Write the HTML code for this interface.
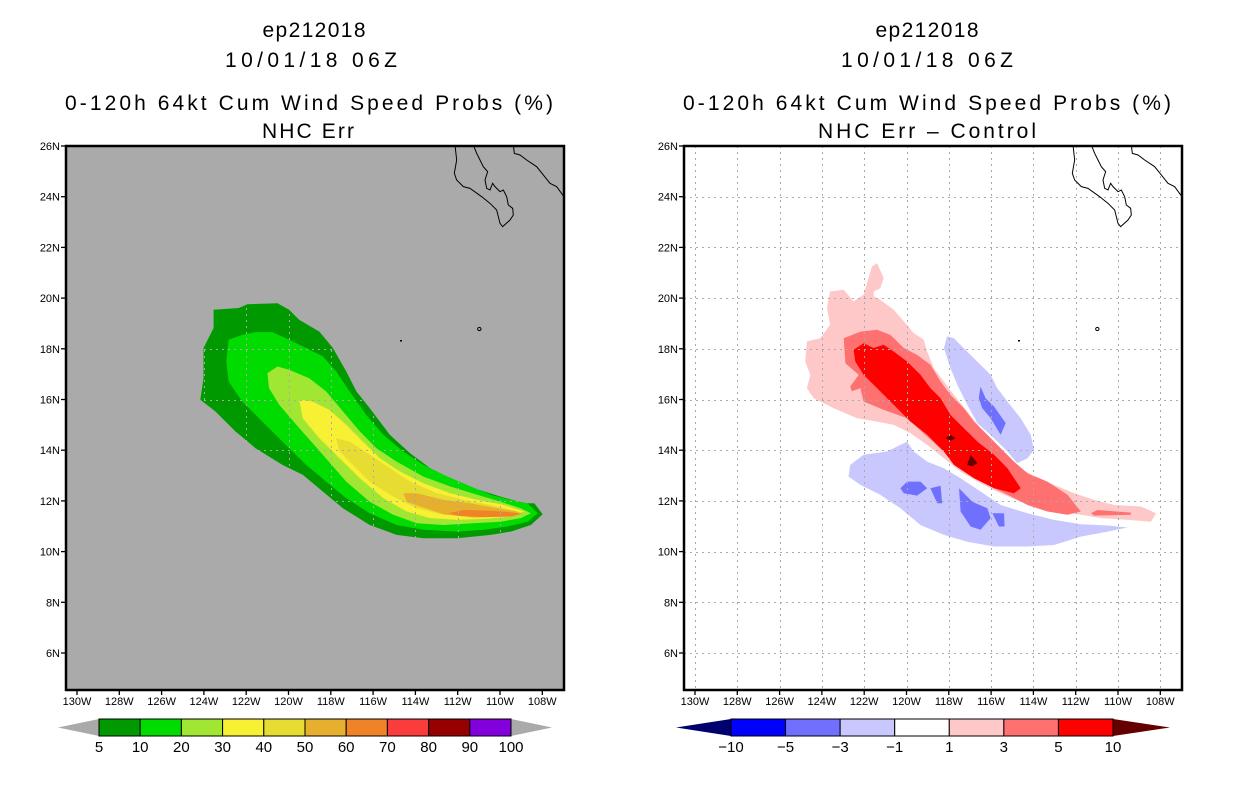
<!DOCTYPE html>
<html><head><meta charset="utf-8"><style>
html,body{margin:0;padding:0;background:#fff}
svg{display:block}
text{font-family:"Liberation Sans",sans-serif;fill:#000}
</style></head><body>
<svg id="fig" width="1236" height="800" viewBox="0 0 1236 800" xmlns="http://www.w3.org/2000/svg">
<defs>
<clipPath id="clipL"><rect x="66" y="146" width="498" height="544"/></clipPath>
<clipPath id="clipR"><rect x="684" y="146" width="498" height="544"/></clipPath>
</defs>
<g text-anchor="middle" font-size="21">
<text x="314" y="37" textLength="103">ep212018</text>
<text x="311" y="67" textLength="172">10/01/18 06Z</text>
<text x="309" y="110" textLength="488">0-120h 64kt Cum Wind Speed Probs (%)</text>
<text x="308" y="138" textLength="92">NHC Err</text>
</g>
<g text-anchor="middle" font-size="21">
<text x="927" y="37" textLength="103">ep212018</text>
<text x="927" y="67" textLength="172">10/01/18 06Z</text>
<text x="927" y="110" textLength="488">0-120h 64kt Cum Wind Speed Probs (%)</text>
<text x="927" y="138" textLength="218">NHC Err – Control</text>
</g>
<rect x="66" y="146" width="498" height="544" fill="#aaaaaa"/>
<rect x="684" y="146" width="498" height="544" fill="#ffffff"/>
<g id="contL" clip-path="url(#clipL)"></g>
<g id="contR" clip-path="url(#clipR)"></g>
<g id="gridL" clip-path="url(#clipL)"></g>
<g id="gridR" clip-path="url(#clipR)"></g>
<g clip-path="url(#clipL)">
<g transform="translate(420,130) scale(0.3333)" fill="none" stroke="#000" stroke-width="3">
<path d="M105,45 L110,90 L103,130 L110,150 L130,170 L150,175 L185,200 L210,220 L230,240 L240,280 L248,290 L270,270 L280,255 L278,235 L265,225 L260,200 L250,180 L240,185 L225,170 L218,160 L210,180 L200,175 L195,150 L203,125 L190,110 L180,90 L170,70 L160,45"/>
<path d="M280,45 L283,70 L300,75 L320,90 L350,110 L370,135 L390,160 L410,170 L432,200"/>
<circle cx="178" cy="597" r="5"/>
</g>
<rect x="400" y="340" width="2" height="1.5" fill="#000"/>
</g>
<g clip-path="url(#clipR)">
<g transform="translate(1038,130) scale(0.3333)" fill="none" stroke="#000" stroke-width="3">
<path d="M105,45 L110,90 L103,130 L110,150 L130,170 L150,175 L185,200 L210,220 L230,240 L240,280 L248,290 L270,270 L280,255 L278,235 L265,225 L260,200 L250,180 L240,185 L225,170 L218,160 L210,180 L200,175 L195,150 L203,125 L190,110 L180,90 L170,70 L160,45"/>
<path d="M280,45 L283,70 L300,75 L320,90 L350,110 L370,135 L390,160 L410,170 L432,200"/>
<circle cx="178" cy="597" r="5"/>
</g>
<rect x="1018" y="340" width="2" height="1.5" fill="#000"/>
</g>
<rect x="66" y="146" width="498" height="544" fill="none" stroke="#000" stroke-width="2.5"/>
<rect x="684" y="146" width="498" height="544" fill="none" stroke="#000" stroke-width="2.5"/>
<g id="axesL"></g>
<g id="axesR"></g>
<g id="cbL"></g>
<g id="cbR"></g>
</svg>
<script>
// axis tick values
const lonTicks = [130,128,126,124,122,120,118,116,114,112,110,108];
const latTicks = [26,24,22,20,18,16,14,12,10,8,6];
// left colorbar
const probLevels = [5,10,20,30,40,50,60,70,80,90,100];
const probColors = ['#009a00','#00dc00','#a0e632','#f8f032','#e6dc32','#e6af2d','#f08228','#fa3c3c','#960000','#8200dc'];
// right colorbar
const diffLevels = [-10,-5,-3,-1,1,3,5,10];
const diffColors = ['#00006e','#0000ff','#7070ff','#c8c8ff','#ffffff','#ffc8c8','#ff7070','#ff0000','#640000'];

// probability contours (lon W, lat N)
const prob5 = [[123.54,19.54],[122.35,19.61],[121.95,19.76],[120.52,19.80],[119.97,19.54],[119.49,19.14],[118.54,18.68],[117.90,18.03],[117.27,17.11],[116.79,16.32],[116.16,15.66],[115.21,14.61],[114.25,13.88],[113.30,13.29],[112.35,12.89],[111.24,12.50],[109.97,12.17],[108.86,11.91],[108.38,11.91],[107.98,11.47],[108.54,11.05],[109.49,10.79],[110.44,10.66],[112.03,10.53],[113.62,10.53],[114.89,10.66],[116.16,11.05],[117.43,11.71],[118.38,12.37],[119.33,13.03],[120.29,13.42],[121.56,14.08],[122.51,14.74],[123.46,15.53],[124.17,15.99],[124.02,16.84],[124.02,18.03],[123.54,18.82]];
const prob10 = [[122.83,18.36],[122.19,18.55],[121.56,18.66],[120.76,18.66],[119.97,18.36],[119.17,18.03],[118.38,17.70],[117.75,17.11],[117.11,16.32],[116.32,15.39],[115.52,14.61],[114.57,13.95],[113.62,13.42],[112.67,13.03],[111.56,12.63],[110.44,12.24],[109.49,12.04],[108.70,11.91],[108.22,11.51],[108.70,11.18],[109.65,10.99],[110.76,10.86],[112.03,10.79],[113.62,10.86],[114.89,11.05],[116.16,11.51],[117.27,12.11],[118.22,12.76],[119.17,13.42],[120.13,14.21],[121.24,15.13],[122.19,15.92],[122.83,16.71],[122.94,17.50]];
const prob20 = [[121.00,17.04],[120.52,17.30],[119.97,17.17],[119.02,16.84],[118.22,16.32],[117.43,15.53],[116.63,14.74],[115.84,14.08],[114.89,13.55],[113.62,12.96],[112.35,12.57],[111.08,12.24],[109.97,11.97],[109.02,11.71],[108.54,11.51],[109.02,11.32],[109.97,11.18],[111.24,11.12],[112.67,11.05],[113.94,11.12],[115.05,11.45],[116.16,11.97],[117.27,12.76],[118.38,13.82],[119.49,14.87],[120.44,15.79],[120.92,16.45]];
const prob30 = [[119.49,15.99],[118.86,15.92],[118.06,15.59],[117.27,15.00],[116.48,14.34],[115.68,13.68],[114.73,13.16],[113.62,12.70],[112.35,12.30],[111.08,12.04],[109.81,11.84],[108.86,11.58],[109.49,11.38],[110.76,11.29],[112.03,11.25],[113.30,11.32],[114.41,11.58],[115.52,12.11],[116.63,12.89],[117.59,13.68],[118.54,14.47],[119.33,15.26]];
const prob40 = [[117.75,14.47],[117.11,14.34],[116.16,13.82],[115.21,13.29],[114.25,12.76],[112.98,12.30],[111.71,12.04],[110.44,11.84],[109.17,11.58],[109.97,11.45],[111.24,11.38],[112.67,11.45],[113.94,11.71],[115.05,12.17],[116.16,12.76],[116.95,13.42],[117.59,13.95]];
const prob50 = [[114.57,12.30],[113.94,12.30],[112.67,12.04],[111.40,11.91],[110.13,11.71],[109.02,11.55],[109.97,11.38],[111.24,11.34],[112.67,11.47],[113.78,11.78],[114.41,11.97]];
const prob60 = [[112.43,11.51],[111.71,11.64],[110.44,11.61],[109.49,11.55],[108.94,11.49],[109.49,11.38],[110.76,11.36],[112.03,11.42]];

// difference contours
const diffPos1 = [[121.63,21.25],[121.39,21.38],[121.08,20.79],[121.24,20.39],[121.55,20.26],[121.55,20.07],[121.24,19.93],[120.60,19.54],[120.13,19.08],[119.66,18.62],[119.18,18.36],[119.02,17.89],[118.71,17.24],[118.23,16.71],[117.76,16.18],[117.13,15.53],[116.50,14.87],[115.86,14.34],[115.23,13.82],[114.60,13.29],[113.97,12.96],[113.02,12.63],[112.07,12.30],[111.12,12.04],[110.18,11.84],[108.91,11.78],[108.20,11.51],[108.44,11.18],[109.55,11.25],[110.81,11.32],[111.76,11.45],[112.70,11.58],[113.65,11.78],[114.60,11.97],[115.55,12.30],[116.50,12.70],[117.44,13.16],[118.23,13.68],[119.02,14.21],[119.81,14.67],[120.60,15.00],[121.39,15.13],[122.34,15.26],[123.45,15.66],[124.39,16.05],[124.71,16.45],[124.55,16.97],[124.79,17.50],[124.71,18.29],[124.08,18.42],[123.61,18.95],[123.76,19.61],[123.61,20.26],[122.97,20.33],[122.50,19.87],[122.03,20.13]];
const diffPos3 = [[122.97,18.42],[122.18,18.68],[121.39,18.75],[120.76,18.55],[120.13,18.03],[119.50,17.76],[118.87,17.37],[118.39,16.71],[117.92,16.18],[117.29,15.66],[116.81,15.13],[116.18,14.61],[115.55,14.08],[114.92,13.55],[114.28,13.09],[113.34,12.76],[112.39,12.24],[111.76,11.58],[112.39,11.45],[113.34,11.58],[114.28,11.84],[115.23,12.24],[116.18,12.63],[117.13,13.16],[118.08,13.82],[119.02,14.54],[119.97,15.26],[121.08,15.59],[122.03,15.92],[122.18,16.45],[122.58,16.32],[122.66,16.51],[122.26,16.97],[122.89,17.43]];
const diffPos3b = [[111.28,11.51],[110.97,11.64],[109.39,11.54],[109.39,11.45],[111.12,11.42]];
const diffPos5 = [[122.50,17.96],[122.03,18.22],[121.55,18.03],[121.08,18.16],[120.60,17.89],[119.97,17.50],[119.34,16.97],[118.87,16.45],[118.39,16.05],[117.92,15.39],[117.29,14.87],[116.65,14.34],[115.86,13.82],[115.23,13.29],[114.60,12.50],[114.92,12.30],[115.86,12.50],[116.81,12.89],[117.76,13.42],[118.23,13.95],[119.02,14.61],[119.81,15.13],[120.76,15.92],[121.39,16.45],[122.03,16.97],[122.42,17.50]];
const diffPos10a = [[118.15,14.47],[117.92,14.61],[117.68,14.47],[117.92,14.37]];
const diffPos10b = [[117.13,13.42],[116.97,13.82],[116.65,13.49],[116.89,13.36]];
const diffNeg1a = [[118.08,18.49],[117.76,18.42],[117.13,17.89],[116.50,17.37],[116.02,16.97],[115.71,16.45],[115.23,15.92],[114.60,15.26],[114.13,14.61],[113.97,14.01],[114.28,13.68],[114.76,13.49],[115.23,13.95],[115.86,14.47],[116.65,15.07],[117.13,15.79],[117.60,16.58],[117.92,17.24],[118.23,18.03]];
const diffNeg1b = [[122.66,13.42],[122.03,13.82],[120.92,13.95],[119.97,14.34],[119.66,13.95],[119.02,13.55],[118.23,13.29],[117.44,12.89],[116.50,12.37],[115.55,11.84],[114.28,11.51],[113.02,11.25],[111.76,11.08],[110.49,11.03],[109.55,10.95],[110.49,10.79],[111.76,10.59],[113.02,10.26],[114.28,10.20],[115.86,10.20],[117.13,10.39],[118.23,10.66],[119.34,11.05],[120.29,11.71],[121.24,12.24],[122.18,12.63],[122.74,12.96]];
const diffNeg3a = [[116.50,16.51],[116.26,16.05],[115.86,15.72],[115.31,15.07],[115.55,14.61],[116.02,15.26],[116.42,15.66],[116.58,16.05]];
const diffNeg3b = [[120.29,12.50],[119.97,12.76],[119.34,12.76],[119.02,12.50],[119.50,12.21],[120.13,12.30]];
const diffNeg3c = [[118.87,12.50],[118.39,12.60],[118.31,11.91],[118.55,11.91]];
const diffNeg3d = [[117.52,12.50],[116.89,11.97],[116.18,11.71],[116.02,11.32],[116.50,10.86],[116.97,10.99],[117.44,11.58]];
const diffNeg3e = [[115.94,11.51],[115.39,11.51],[115.36,10.99],[115.63,10.99]];

const NS='http://www.w3.org/2000/svg';
const PX_DEG_X=21.15, PX_DEG_Y=25.35;
function xScale(lon, off){ return 77 + off + (130 - lon) * PX_DEG_X; }
function yScale(lat){ return 146 + (26 - lat) * PX_DEG_Y; }
function mk(tag, attrs, parent){ const e=document.createElementNS(NS,tag); for(const k in attrs) e.setAttribute(k,attrs[k]); parent.appendChild(e); return e; }

function drawPoly(parent, pts, off, color, name){
  const d = pts.map((p,i)=>(i?'L':'M')+xScale(p[0],off).toFixed(1)+','+yScale(p[1]).toFixed(1)).join(' ')+'Z';
  const e = mk('path',{d:d, fill:color}, parent);
  
  
}
const cL=document.getElementById('contL');
drawPoly(cL, prob5, 0, probColors[0], 'prob-5-contour');
drawPoly(cL, prob10, 0, probColors[1], 'prob-10-contour');
drawPoly(cL, prob20, 0, probColors[2], 'prob-20-contour');
drawPoly(cL, prob30, 0, probColors[3], 'prob-30-contour');
drawPoly(cL, prob40, 0, probColors[4], 'prob-40-contour');
drawPoly(cL, prob50, 0, probColors[5], 'prob-50-contour');
drawPoly(cL, prob60, 0, probColors[6], 'prob-60-contour');

const cR=document.getElementById('contR');
const RO=618;
drawPoly(cR, diffPos1, RO, diffColors[5], 'diff-plus1-contour');
drawPoly(cR, diffPos3, RO, diffColors[6], 'diff-plus3-contour');
drawPoly(cR, diffPos3b, RO, diffColors[6], 'diff-plus3-tail');
drawPoly(cR, diffPos5, RO, diffColors[7], 'diff-plus5-contour');
drawPoly(cR, diffPos10a, RO, diffColors[8], 'diff-plus10-spot');
drawPoly(cR, diffPos10b, RO, diffColors[8], 'diff-plus10-spot');
drawPoly(cR, diffNeg1a, RO, diffColors[3], 'diff-minus1-north');
drawPoly(cR, diffNeg1b, RO, diffColors[3], 'diff-minus1-south');
drawPoly(cR, diffNeg3a, RO, diffColors[2], 'diff-minus3-spot');
drawPoly(cR, diffNeg3b, RO, diffColors[2], 'diff-minus3-spot');
drawPoly(cR, diffNeg3c, RO, diffColors[2], 'diff-minus3-spot');
drawPoly(cR, diffNeg3d, RO, diffColors[2], 'diff-minus3-spot');
drawPoly(cR, diffNeg3e, RO, diffColors[2], 'diff-minus3-spot');

function drawGrid(g, off){
  lonTicks.forEach(l=>{ const x=Math.round(xScale(l,off))+0.5; const e=mk('line',{x1:x,x2:x,y1:146,y2:690,stroke:'#aaaaaa','stroke-width':1,'stroke-dasharray':'2,4','shape-rendering':'crispEdges'},g);
      });
  latTicks.forEach(l=>{ const y=Math.round(yScale(l))+0.5; const e=mk('line',{x1:66+off,x2:564+off,y1:y,y2:y,stroke:'#aaaaaa','stroke-width':1,'stroke-dasharray':'2,4','shape-rendering':'crispEdges'},g);
      });
}
drawGrid(document.getElementById('gridL'),0);
drawGrid(document.getElementById('gridR'),RO);

function drawAxes(g, off){
  lonTicks.forEach(l=>{ const x=xScale(l,off);
    const t=mk('line',{x1:x,x2:x,y1:690,y2:695,stroke:'#000','stroke-width':1.3},g);
     
    const tx=mk('text',{x:x,y:705,'font-size':11,'text-anchor':'middle'},g); tx.textContent=l+'W';
      });
  latTicks.forEach(l=>{ const y=yScale(l);
    const t=mk('line',{x1:61+off,x2:66+off,y1:y,y2:y,stroke:'#000','stroke-width':1.3},g);
     
    const tx=mk('text',{x:60+off,y:y+4,'font-size':11,'text-anchor':'end'},g); tx.textContent=l+'N';
      });
}
drawAxes(document.getElementById('axesL'),0);
drawAxes(document.getElementById('axesR'),RO);

function drawColorbar(g, levels, colors, x0, x1, tipL, tipR, triColors, name){
  const n=levels.length-1, w=(x1-x0)/n, yt=719, yb=736, ym=727.5;
  if(triColors){
    const a=mk('polygon',{points:`${x0},${yt} ${x0},${yb} ${tipL},${ym}`,fill:triColors[0]},g);
     
    const b=mk('polygon',{points:`${x1},${yt} ${x1},${yb} ${tipR},${ym}`,fill:triColors[1]},g);
     
  }
  for(let i=0;i<n;i++){
    const r=mk('rect',{x:x0+i*w,y:yt,width:w,height:yb-yt,fill:colors[i],stroke:'#000','stroke-width':1},g);
     
  }
  levels.forEach((lv,i)=>{
    const t=mk('text',{x:x0+i*w,y:752,'font-size':15,'text-anchor':'middle'},g);
    t.textContent = lv<0 ? '\u2212'+Math.abs(lv) : String(lv);
     
  });
}
drawColorbar(document.getElementById('cbL'), probLevels, probColors, 99, 511, 58, 552, ['#aaaaaa','#aaaaaa'], 'prob-colorbar');
(function(){
  const g=document.getElementById('cbR');
  const inner=diffColors.slice(1,8);
  drawColorbar(g, diffLevels, inner, 731, 1113, 676, 1170, [diffColors[0], diffColors[8]], 'diff-colorbar');
})();
</script>
</body></html>
